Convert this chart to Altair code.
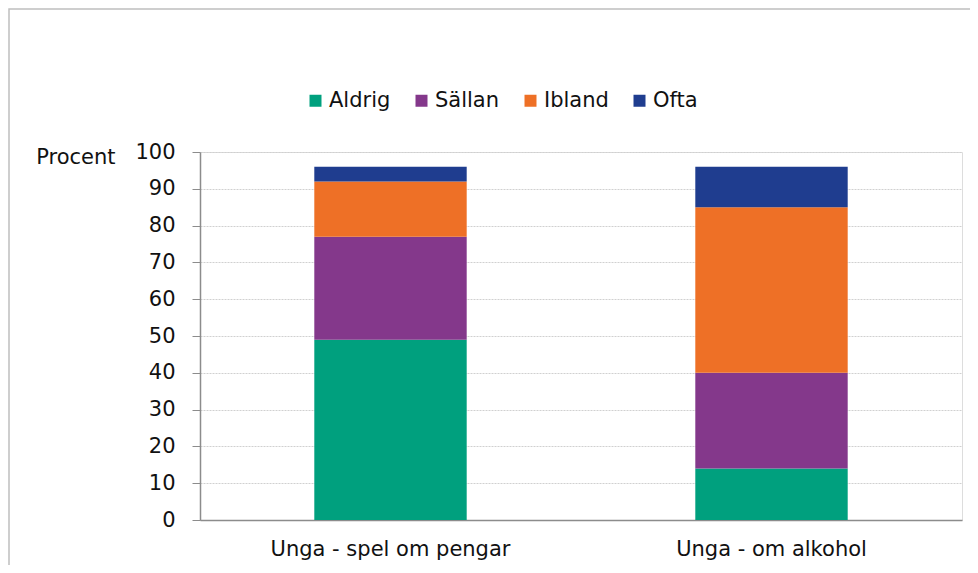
import altair as alt
import pandas as pd

categories = ["Unga - spel om pengar", "Unga - om alkohol"]
series = ["Aldrig", "Sällan", "Ibland", "Ofta"]
aldrig = [49, 14]
sallan = [28, 26]
ibland = [15, 45]
ofta = [4, 11]
colors = ["#00a07e", "#84388b", "#ee7026", "#1f3d8f"]

rows = []
for s_i, (name, vals) in enumerate(zip(series, [aldrig, sallan, ibland, ofta])):
    for c, v in zip(categories, vals):
        rows.append({"Kategori": c, "Serie": name, "Procent": v, "ord": s_i})
df = pd.DataFrame(rows)

FONT = "DejaVu Sans"
FS = 21

bars = alt.Chart(df).mark_bar().encode(
    x=alt.X("Kategori:N", sort=categories,
            scale=alt.Scale(paddingInner=0.6, paddingOuter=0.3),
            axis=alt.Axis(title=None, labelAngle=0, ticks=False, labelPadding=18,
                          labelLimit=0,
                          domainColor="#8c8c8c", domainWidth=1.5,
                          labelFont=FONT, labelFontSize=FS, labelColor="#111111",
                          grid=False)),
    y=alt.Y("Procent:Q", stack="zero",
            scale=alt.Scale(domain=[0, 100], nice=False),
            axis=alt.Axis(values=list(range(0, 101, 10)), title="Procent",
                          titleAngle=0, titleX=-85, titleY=11, titleAlign="right",
                          titleBaseline="alphabetic", titleFont=FONT, titleFontSize=FS,
                          titleFontWeight="normal", titleColor="#111111",
                          labelFont=FONT, labelFontSize=FS, labelColor="#111111",
                          labelPadding=17, tickSize=8, tickColor="#8c8c8c",
                          domainColor="#8c8c8c", domainWidth=1.5,
                          grid=True, gridColor="#d0d0d0", gridDash=[2, 1], gridWidth=1)),
    color=alt.Color("Serie:N", sort=series,
                    scale=alt.Scale(domain=series, range=colors),
                    legend=alt.Legend(title=None, orient="none", direction="horizontal",
                                      legendX=105, legendY=-62, symbolType="square",
                                      symbolSize=144, symbolStrokeWidth=0,
                                      labelFont=FONT, labelFontSize=FS, labelColor="#111111",
                                      labelOffset=3, columnPadding=20, padding=0)),
    order=alt.Order("ord:Q", sort="ascending"),
)

border = alt.Chart(pd.DataFrame({"a": [0]})).mark_rect(
    fill="white", fillOpacity=0, stroke="#bfbfbf", strokeWidth=1.5, clip=False
).encode(
    x=alt.value(-191), x2=alt.value(830), y=alt.value(-143), y2=alt.value(470)
)

chart = alt.layer(border, bars).properties(
    width=762, height=368,
    autosize=alt.AutoSizeParams(type="none"),
    padding={"left": 192, "top": 144, "right": 8, "bottom": 45},
).configure_view(stroke=None).configure(background="white")

chart.save("out.html", embed_options={"renderer": "svg", "actions": False})
